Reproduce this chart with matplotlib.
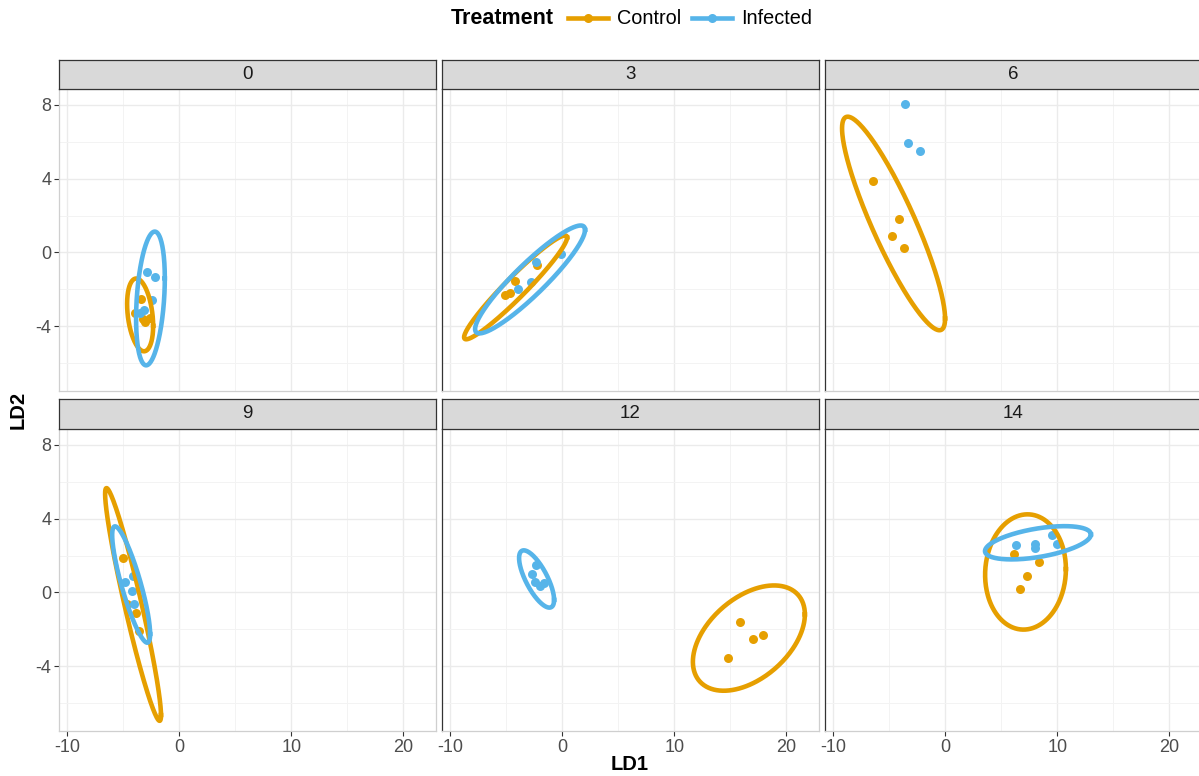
import numpy as np
import matplotlib.pyplot as plt
from matplotlib.lines import Line2D

plt.rcParams['font.family'] = ['Liberation Sans', 'DejaVu Sans']
plt.rcParams['axes.unicode_minus'] = False

days = ['0', '3', '6', '9', '12', '14']

# LD scores per day
ctrl_ld1 = [[-3.4, -3.9, -3.2, -2.6, -3.0],
            [-2.25, -4.2, -4.6, -5.1],
            [-6.4, -4.1, -4.7, -3.65],
            [-5.0, -4.6, -3.8, -3.55],
            [15.9, 17.0, 17.9, 14.8],
            [6.1, 8.4, 7.3, 6.7]]
ctrl_ld2 = [[-2.5, -3.3, -3.6, -3.55, -3.75],
            [-0.7, -1.55, -2.2, -2.3],
            [3.85, 1.8, 0.9, 0.25],
            [1.85, -0.6, -1.1, -2.1],
            [-1.6, -2.5, -2.3, -3.55],
            [2.1, 1.65, 0.9, 0.2]]
inf_ld1 = [[-2.9, -2.15, -2.45, -3.1, -3.5],
           [-0.05, -2.35, -2.75, -3.95],
           [-3.55, -3.3, -2.2],
           [-4.1, -4.8, -4.2, -4.0],
           [-2.35, -2.7, -2.45, -1.95, -1.65],
           [6.3, 8.0, 8.05, 9.5, 10.0]]
inf_ld2 = [[-1.05, -1.35, -2.6, -3.1, -3.3],
           [-0.1, -0.5, -1.6, -2.0],
           [8.05, 5.9, 5.5],
           [0.9, 0.55, 0.1, -0.65],
           [1.5, 1.0, 0.55, 0.35, 0.5],
           [2.55, 2.6, 2.4, 3.1, 2.6]]

# 95% ellipses: centre x, centre y, half-width, half-height, correlation
ctrl_ell = [(-3.47, -3.38, 1.16, 1.97, -0.3),
            (-4.14, -1.89, 4.59, 2.81, 0.96),
            (-4.59, 1.57, 4.59, 5.78, -0.89),
            (-4.1, -0.65, 2.49, 6.3, -0.95),
            (16.65, -2.47, 4.99, 2.85, 0.45),
            (7.17, 1.11, 3.6, 3.12, 0.05)]
inf_ell = [(-2.55, -2.49, 1.28, 3.62, 0.3),
           (-2.85, -1.46, 4.9, 2.92, 0.92),
           None,
           (-4.27, 0.43, 1.69, 3.15, -0.85),
           (-2.27, 0.73, 1.56, 1.55, -0.73),
           (8.28, 2.69, 4.72, 0.9, 0.5)]

groups = ['Control', 'Infected']
col_ctrl = '#E69F00'
col_inf = '#56B4E9'

W, H = 1199, 776
fig = plt.figure(figsize=(W / 100, H / 100), dpi=100)
fig.patch.set_facecolor('white')


def ellipse_xy(cx, cy, hx, hy, r):
    t = np.linspace(0, 2 * np.pi, 300)
    x = cx + hx * np.cos(t)
    y = cy + hy * (r * np.cos(t) + np.sqrt(1 - r ** 2) * np.sin(t))
    return x, y


def fx(px):
    return px / W


def fy(py):
    return 1 - py / H


col_left = [59, 442, 825]
row_top = [89, 429]
strip_top = [60, 399]
pw, ph = 377, 302

for i, day in enumerate(days):
    row, col = divmod(i, 3)
    left = col_left[col]
    top = row_top[row]
    ax = fig.add_axes([fx(left), fy(top + ph), pw / W, ph / H])
    ax.set_xlim(-10.7, 22.9)
    ax.set_ylim(-7.5, 8.85)
    ax.set_xticks([-10, 0, 10, 20])
    ax.set_yticks([-4, 0, 4, 8])
    ax.set_xticks([-5, 5, 15], minor=True)
    ax.set_yticks([-6, -2, 2, 6], minor=True)
    ax.grid(which='major', color='#ebebeb', lw=1.0, zorder=0)
    ax.grid(which='minor', color='#f3f3f3', lw=0.7, zorder=0)
    ax.set_axisbelow(True)
    ax.tick_params(which='minor', length=0)
    ax.tick_params(which='major', length=3.5, color='#333333', width=0.8,
                   labelsize=13, labelcolor='#4d4d4d', pad=2)
    if col != 0:
        ax.tick_params(axis='y', labelleft=False, length=0)
    if row != 1:
        ax.tick_params(axis='x', labelbottom=False, length=0)
    for s in ax.spines.values():
        s.set_color('#cfcfcf')
        s.set_linewidth(0.9)
    if col != 0:
        ax.spines['left'].set_color('#333333')

    ax.scatter(ctrl_ld1[i], ctrl_ld2[i], s=42, color=col_ctrl, zorder=2,
               linewidths=0)
    ax.scatter(inf_ld1[i], inf_ld2[i], s=42, color=col_inf, zorder=2,
               linewidths=0)
    if ctrl_ell[i] is not None:
        ex, ey = ellipse_xy(*ctrl_ell[i])
        ax.plot(ex, ey, color=col_ctrl, lw=3.3, zorder=3)
    if inf_ell[i] is not None:
        ex, ey = ellipse_xy(*inf_ell[i])
        ax.plot(ex, ey, color=col_inf, lw=3.3, zorder=4)

    # facet strip
    st = strip_top[row]
    sh = top - st
    sax = fig.add_axes([fx(left), fy(top), pw / W, sh / H])
    sax.set_xlim(0, 1)
    sax.set_ylim(0, 1)
    sax.set_xticks([])
    sax.set_yticks([])
    sax.set_facecolor('#d9d9d9')
    for s in sax.spines.values():
        s.set_color('#333333')
        s.set_linewidth(0.9)
    sax.text(0.5, 0.5, day, ha='center', va='center', fontsize=13.5,
             color='#1a1a1a')

fig.text(fx(630), fy(765), 'LD1', ha='center', va='center',
         fontsize=14.5, fontweight='bold')
fig.text(fx(18), fy(410), 'LD2', ha='center', va='center',
         fontsize=14.5, fontweight='bold', rotation=90)

# legend on top, drawn by hand so the title sits left of the keys
ly = fy(18)
fig.text(fx(451), ly, 'Treatment', ha='left', va='center',
         fontsize=15.5, fontweight='bold')
for name, colr, kx in zip(groups, [col_ctrl, col_inf], [568, 692]):
    fig.add_artist(Line2D([fx(kx), fx(kx + 40)], [ly, ly], color=colr,
                          lw=3.3, transform=fig.transFigure))
    fig.add_artist(Line2D([fx(kx + 20)], [ly], color=colr, marker='o',
                          markersize=6.5, markeredgewidth=0,
                          transform=fig.transFigure))
    fig.text(fx(kx + 49), ly, name, ha='left', va='center', fontsize=14.3)

fig.savefig('out.png', dpi=100)
